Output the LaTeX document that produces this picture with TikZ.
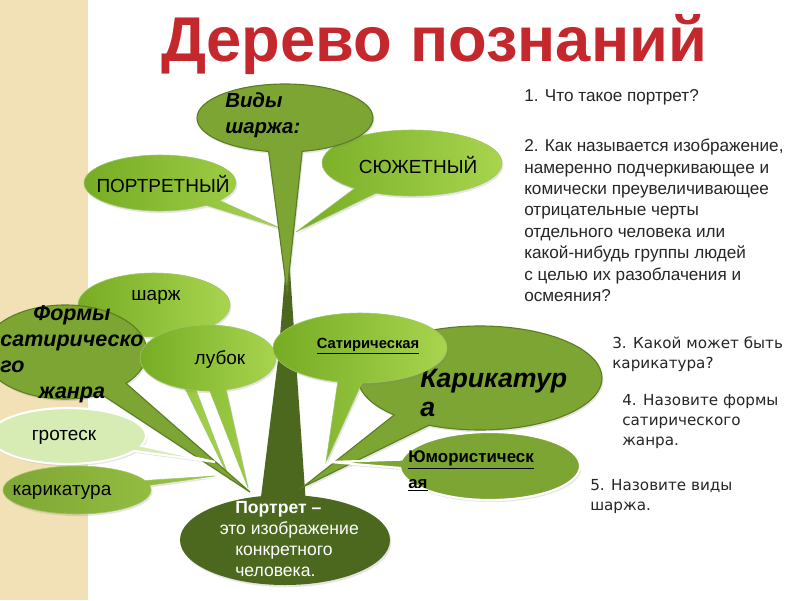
\documentclass[tikz,border=0pt]{standalone}
\usepackage{fontspec}
\setmainfont{Liberation Sans}
\newfontfamily\qfont{DejaVu Sans}
\usetikzlibrary{shapes.geometric, shapes.callouts, shadows}

\definecolor{titlered}{RGB}{196,40,45}
\definecolor{parchment}{RGB}{242,224,182}
\definecolor{bark}{RGB}{76,104,30}
\definecolor{olive}{RGB}{125,165,52}
\definecolor{oliveline}{RGB}{92,126,34}
\definecolor{limedark}{RGB}{118,172,36}
\definecolor{limelight}{RGB}{168,212,78}
\definecolor{palegreen}{RGB}{214,236,180}

\begin{document}
\begin{tikzpicture}[
        x=0.25mm, y=-0.25mm,
        softshadow/.style={drop shadow={shadow xshift=1pt, shadow yshift=-1.5pt, opacity=0.2}},
        leaf/.style={ellipse callout, inner sep=0pt, left color=limedark, right color=limelight, draw=limedark!70!white, line width=0.4pt, softshadow},
        darkleaf/.style={ellipse callout, inner sep=0pt, fill=olive, draw=oliveline, line width=0.8pt, softshadow},
        paleleaf/.style={ellipse callout, inner sep=0pt, fill=palegreen, draw=white, line width=1.5pt, softshadow},
        lbl/.style={inner sep=0pt, font=\fontsize{13.5}{16}\selectfont},
        boldlbl/.style={inner sep=0pt, align=left, font=\bfseries\itshape\fontsize{14.5}{18.5}\selectfont},
        question/.style={inner sep=0pt, anchor=north west, align=left, text=black!85, font=\fontsize{12.2}{15.2}\selectfont},
        question2/.style={inner sep=0pt, anchor=north west, align=left, text=black!85, font=\qfont\fontsize{10.8}{14.2}\selectfont}
    ]
        % Fondo
        \useasboundingbox (0,0) rectangle (800,600);
        \clip (0,0) rectangle (800,600);
        \fill[white] (0,0) rectangle (800,600);
        \fill[parchment] (0,0) rectangle (88,600);

        % Titolo
        \node[font=\bfseries\fontsize{45}{50}\selectfont, text=titlered, anchor=base, inner sep=0pt] (title) at (434,61) {Дерево познаний};

        % Tronco
        \coordinate (crown) at (288,240);
        \fill[bark] (crown) -- (296,360) -- (306,505) -- (260,505) -- (278,360) -- cycle;

        % Punte delle foglie
        \coordinate (tip-vidy) at (287,292);
        \coordinate (tip-portr) at (280,228);
        \coordinate (tip-syuzh) at (296,232);
        \coordinate (tip-sharzh) at (230,480);
        \coordinate (tip-formy) at (250,492);
        \coordinate (tip-lubok) at (248,488);
        \coordinate (tip-grot) at (215,462);
        \coordinate (tip-karik2) at (215,476);
        \coordinate (tip-karik) at (303,487);
        \coordinate (tip-satir) at (326,462);
        \coordinate (tip-yumor) at (330,462);

        % Rami in alto
        \node[leaf, minimum width=38mm, minimum height=14mm, callout absolute pointer={(tip-portr)}, callout pointer arc=14] (portr) at (160,183) {};
        \node[lbl] (portr-t) at (163,184) {ПОРТРЕТНЫЙ};

        \node[leaf, minimum width=45mm, minimum height=16.5mm, callout absolute pointer={(tip-syuzh)}, callout pointer arc=16] (syuzh) at (412,163) {};
        \node[lbl] (syuzh-t) at (418,165) {СЮЖЕТНЫЙ};

        \node[darkleaf, minimum width=44mm, minimum height=17mm, callout absolute pointer={(tip-vidy)}, callout pointer arc=22] (vidy) at (285,118) {};
        \node[boldlbl, anchor=west] (vidy-t) at (225,115) {Виды\\шаржа:};

        % Rami a sinistra
        \node[leaf, minimum width=38mm, minimum height=16mm, callout absolute pointer={(tip-sharzh)}, callout pointer arc=12] (sharzh) at (154,305) {};
        \node[lbl] (sharzh-t) at (156,297) {шарж};

        \node[darkleaf, minimum width=41mm, minimum height=23.5mm, callout absolute pointer={(tip-formy)}, callout pointer arc=22] (formy) at (65,352) {};
        \node[boldlbl, align=center, font=\bfseries\itshape\fontsize{15.3}{18.5}\selectfont] (formy-t) at (72,354) {Формы\\сатирическо\\\rlap{го}\phantom{сатирическо}\\жанра};

        \node[leaf, minimum width=34mm, minimum height=16.5mm, callout absolute pointer={(tip-lubok)}, callout pointer arc=14] (lubok) at (208,358) {};
        \node[lbl] (lubok-t) at (220,360) {лубок};

        \node[paleleaf, minimum width=39mm, minimum height=14mm, callout absolute pointer={(tip-grot)}, callout pointer arc=12] (grot) at (68,436) {};
        \node[lbl] (grot-t) at (64,437) {гротеск};

        \node[leaf, left color=olive, right color=limelight!70!olive, minimum width=37mm, minimum height=12mm, callout absolute pointer={(tip-karik2)}, callout pointer arc=12] (karik2) at (77,490) {};
        \node[lbl] (karik2-t) at (62,492) {карикатура};

        % Rami a destra
        \node[darkleaf, minimum width=61mm, minimum height=26mm, callout absolute pointer={(tip-karik)}, callout pointer arc=20] (karik) at (480,378) {};
        \node[boldlbl, anchor=west, font=\bfseries\itshape\fontsize{19}{21}\selectfont] (karik-t) at (420,393) {Карикатур\\а};

        \node[leaf, minimum width=43.5mm, minimum height=17.5mm, callout absolute pointer={(tip-satir)}, callout pointer arc=16] (satir) at (360,348) {};
        \node[inner sep=0pt, font=\bfseries\fontsize{10.5}{12}\selectfont] (satir-t) at (368,346) {\underline{Сатирическая}};

        \node[paleleaf, fill=olive, minimum width=45mm, minimum height=17mm, callout absolute pointer={(tip-yumor)}, callout pointer arc=14] (yumor) at (490,466) {};
        \node[inner sep=0pt, anchor=west, align=left, font=\bfseries\fontsize{12}{18.5}\selectfont] (yumor-t) at (408,471) {\underline{Юмористическ}\\\underline{ая}};

        % Radice
        \node[ellipse, fill=bark, minimum width=52.5mm, minimum height=22.5mm, inner sep=0pt, softshadow] (root) at (285,540) {};
        \node[inner sep=0pt, anchor=north west, align=left, text=white, font=\fontsize{12.5}{15}\selectfont] (root-t) at (235,501) {\textbf{Портрет –}\\\hspace*{-11pt}это изображение\\конкретного\\человека.};

        % Domande
        \node[question] (q1) at (524,89) {1. Что такое портрет?};
        \node[question] (q2) at (524,139) {2. Как называется изображение,\\намеренно подчеркивающее и\\комически преувеличивающее\\отрицательные черты\\отдельного человека или\\какой-нибудь группы людей\\с целью их разоблачения и\\осмеяния?};
        \node[question2] (q3) at (612,336) {3. Какой может быть\\карикатура?};
        \node[question2] (q4) at (622,394) {4. Назовите формы\\сатирического\\жанра.};
        \node[question2] (q5) at (590,479) {5. Назовите виды\\шаржа.};
    \end{tikzpicture}
\end{document}
